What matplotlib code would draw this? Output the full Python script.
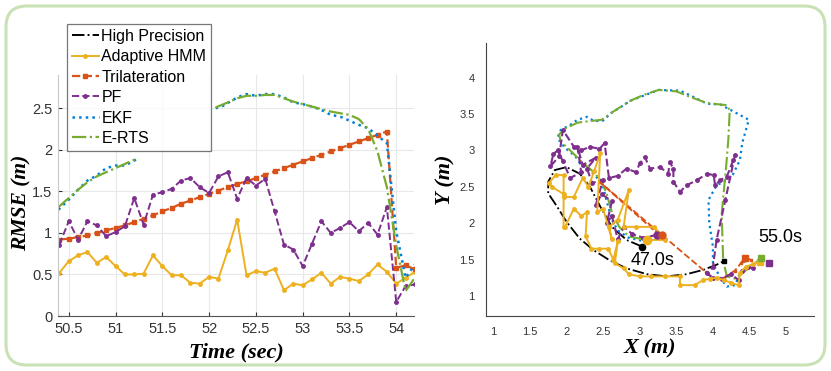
import numpy as np
import matplotlib
matplotlib.use('Agg')
import matplotlib.pyplot as plt
from matplotlib.patches import FancyBboxPatch

# ---- left panel: RMSE over time ----
t = [50.4, 50.5, 50.6, 50.7, 50.8, 50.9, 51.0, 51.1, 51.2, 51.3, 51.4, 51.5, 51.6,
     51.7, 51.8, 51.9, 52.0, 52.1, 52.2, 52.3, 52.4, 52.5, 52.6, 52.7, 52.8, 52.9,
     53.0, 53.1, 53.2, 53.3, 53.4, 53.5, 53.6, 53.7, 53.8, 53.9, 54.0, 54.1, 54.2]
rmse_hmm = [0.52, 0.66, 0.73, 0.77, 0.64, 0.71, 0.60, 0.50, 0.50, 0.51, 0.73, 0.60, 0.49,
            0.49, 0.40, 0.39, 0.47, 0.45, 0.79, 1.16, 0.49, 0.54, 0.52, 0.57, 0.31, 0.39,
            0.37, 0.44, 0.52, 0.39, 0.47, 0.45, 0.42, 0.50, 0.62, 0.53, 0.39, 0.46, 0.53]
rmse_tri = [0.92, 0.93, 0.95, 0.97, 1.00, 1.03, 1.06, 1.09, 1.13, 1.17, 1.21, 1.26, 1.30,
            1.35, 1.39, 1.43, 1.47, 1.51, 1.55, 1.59, 1.62, 1.66, 1.70, 1.74, 1.78, 1.82,
            1.86, 1.90, 1.94, 1.98, 2.02, 2.06, 2.10, 2.14, 2.18, 2.22, 0.58, 0.61, 0.56]
rmse_pf = [0.86, 1.14, 0.92, 1.14, 1.09, 0.96, 1.01, 1.08, 1.42, 1.10, 1.46, 1.49, 1.53,
           1.63, 1.66, 1.55, 1.48, 1.68, 1.73, 1.41, 1.66, 1.57, 1.65, 1.26, 0.86, 0.80,
           0.60, 0.87, 1.14, 1.00, 1.06, 1.13, 1.02, 1.12, 0.98, 1.31, 0.17, 0.36, 0.38]

# EKF / E-RTS curves (gap where no estimate)
ekf_t = [50.39, 50.5, 50.6, 50.7, 50.8, 50.9, 51.0, 51.1, 51.2, 51.24, None,
         52.07, 52.15, 52.3, 52.4, 52.5, 52.6, 52.7, 52.8, 52.9, 53.0, 53.1, 53.2,
         53.3, 53.4, 53.5, 53.6, 53.7, 53.8, 53.9, 54.0, 54.1, 54.2]
ekf_v = [1.28, 1.40, 1.52, 1.63, 1.69, 1.78, 1.81, 1.81, 1.87, 1.90, None,
         2.50, 2.53, 2.63, 2.67, 2.65, 2.67, 2.67, 2.63, 2.57, 2.55, 2.52, 2.48,
         2.42, 2.40, 2.35, 2.30, 2.26, 2.17, 2.08, 1.02, 0.46, 0.62]
erts_t = [50.39, 50.5, 50.6, 50.7, 50.8, 50.9, 51.0, 51.1, 51.2, 51.24, None,
          52.07, 52.2, 52.3, 52.4, 52.5, 52.6, 52.7, 52.8, 52.9, 53.0, 53.1, 53.2,
          53.3, 53.4, 53.5, 53.6, 53.7, 53.8, 53.9, 54.0, 54.1, 54.2]
erts_v = [1.31, 1.42, 1.52, 1.61, 1.68, 1.73, 1.78, 1.83, 1.88, 1.90, None,
          2.51, 2.57, 2.62, 2.65, 2.65, 2.66, 2.66, 2.62, 2.58, 2.55, 2.52, 2.49,
          2.46, 2.44, 2.42, 2.37, 2.25, 1.98, 1.55, 0.85, 0.30, 0.46]

# ---- right panel: trajectories (x, y in m) ----
hp_x = [3.03, 2.82, 2.62, 2.46, 2.32, 2.18, 2.00, 1.84, 1.75, 1.75, 1.87, 2.00, 2.18,
        2.37, 2.59, 2.82, 3.10, 3.37, 3.64, 3.87, 4.05, 4.15]
hp_y = [1.68, 1.77, 1.95, 2.23, 2.50, 2.68, 2.77, 2.73, 2.57, 2.41, 2.23, 2.02, 1.79,
        1.63, 1.49, 1.38, 1.30, 1.27, 1.30, 1.36, 1.43, 1.48]

hmm_x = [3.10, 3.35, 3.28, 3.20, 2.95, 2.78, 2.85, 2.70, 2.58, 2.62, 2.50, 2.42, 2.46,
         2.38, 2.30, 2.22, 2.10, 1.96, 1.96, 1.85, 1.76, 1.80, 1.96, 1.96, 1.98, 2.10,
         2.20, 2.28, 2.26, 2.34, 2.45, 2.57, 2.64, 2.70, 2.66, 2.78, 2.85, 3.00, 3.15,
         3.35, 3.55, 3.55, 3.75, 3.87, 3.96, 4.05, 4.15, 4.25, 4.35, 4.37, 4.45, 4.55, 4.64]
hmm_y = [1.77, 1.77, 1.85, 1.95, 1.95, 1.95, 2.45, 2.05, 1.95, 1.78, 2.20, 2.15, 2.96,
         2.72, 2.50, 2.62, 2.36, 2.36, 2.66, 2.66, 2.55, 2.50, 2.40, 1.95, 1.95, 2.20,
         2.10, 2.15, 1.82, 1.65, 1.65, 1.65, 1.50, 1.75, 1.45, 1.38, 1.30, 1.27, 1.27,
         1.27, 1.27, 1.15, 1.15, 1.22, 1.24, 1.25, 1.22, 1.18, 1.15, 1.32, 1.40, 1.44, 1.47]

tri_x = [3.30, 3.22, 2.46, 3.90, 4.00, 4.15, 4.30, 4.44, 4.38, 4.52, 4.44]
tri_y = [1.84, 1.88, 2.56, 1.33, 1.25, 1.25, 1.35, 1.52, 1.45, 1.50, 1.52]

pf_x = [3.24, 3.05, 2.90, 2.78, 2.70, 2.62, 2.55, 2.62, 2.48, 2.40, 2.50, 2.35, 2.28,
        2.40, 2.22, 2.15, 2.20, 2.05, 1.95, 1.88, 1.82, 1.78, 1.90, 1.95, 2.10, 2.20,
        2.32, 2.45, 2.52, 2.58, 2.70, 2.82, 2.95, 3.00, 3.07, 3.14, 3.28, 3.39, 3.41,
        3.46, 3.46, 3.55, 3.64, 3.78, 3.92, 4.01, 4.03, 4.10, 4.19, 4.28, 4.30, 4.17,
        4.05, 4.00, 3.92, 4.00, 4.12, 4.25, 4.35, 4.40, 4.48, 4.55, 4.65, 4.76]
pf_y = [1.84, 1.80, 1.85, 1.95, 1.78, 2.10, 2.00, 2.30, 2.40, 2.25, 2.60, 2.55, 2.75,
        2.90, 2.80, 3.05, 2.70, 2.62, 2.85, 3.00, 2.95, 2.78, 2.92, 3.28, 3.05, 3.00,
        3.05, 3.02, 3.10, 2.62, 2.65, 2.75, 2.70, 2.82, 2.91, 2.75, 2.77, 2.68, 2.84,
        2.75, 2.57, 2.43, 2.52, 2.59, 2.68, 2.66, 2.52, 2.59, 2.64, 2.87, 2.93, 2.32,
        1.77, 1.40, 1.31, 1.25, 1.24, 1.30, 1.22, 1.35, 1.40, 1.38, 1.48, 1.45]

ekf_x = [3.02, 2.85, 2.70, 2.62, 2.55, 2.50, 2.42, 2.30, 2.20, 2.12, 2.02, 1.92, 1.88,
         1.92, 2.05, 2.15, 2.28, 2.38, 2.50, 2.62, 2.75, 2.87, 3.05, 3.26, 3.55, 3.70,
         3.92, 4.10, 4.25, 4.49, 4.40, 4.37, 4.25, 4.05, 3.94, 3.95, 4.00, 4.00, 4.10,
         4.19, 4.30, 4.37, 4.50, 4.64]
ekf_y = [1.76, 1.80, 1.90, 2.05, 2.30, 2.50, 2.62, 2.75, 2.80, 2.92, 3.00, 3.10, 3.18,
         3.28, 3.35, 3.42, 3.46, 3.40, 3.41, 3.52, 3.60, 3.68, 3.75, 3.83, 3.82, 3.75,
         3.64, 3.63, 3.55, 3.42, 3.10, 2.87, 2.62, 2.52, 2.32, 2.00, 1.68, 1.45, 1.25,
         1.13, 1.15, 1.30, 1.40, 1.49]

erts_x = [3.04, 2.85, 2.72, 2.62, 2.55, 2.48, 2.35, 2.20, 2.05, 1.92, 1.90, 1.98, 2.15,
          2.30, 2.48, 2.62, 2.87, 3.05, 3.26, 3.50, 3.70, 3.92, 4.19, 4.23, 4.21, 4.18,
          4.12, 4.14, 4.19, 4.30, 4.46, 4.66]
erts_y = [1.78, 1.82, 1.95, 2.15, 2.40, 2.58, 2.72, 2.85, 3.00, 3.12, 3.22, 3.30, 3.38,
          3.40, 3.42, 3.52, 3.68, 3.76, 3.83, 3.81, 3.73, 3.65, 3.62, 3.55, 3.14, 2.77,
          2.13, 1.49, 1.27, 1.24, 1.36, 1.52]

names = ['High Precision', 'Adaptive HMM', 'Trilateration', 'PF', 'EKF', 'E-RTS']
c_hp = 'black'
c_hmm = '#EDB120'
c_tri = '#D95319'
c_pf = '#7E2F8E'
c_ekf = '#0080D8'
c_erts = '#77AC30'

def arr(v):
    return np.array([np.nan if a is None else a for a in v], dtype=float)

plt.rcParams['font.family'] = ['Liberation Sans', 'DejaVu Sans']
fig = plt.figure(figsize=(8.31, 3.71), dpi=100)

# green rounded frame around the whole figure
frame = FancyBboxPatch((6 / 831, 6 / 371), 819 / 831, 359 / 371,
                       boxstyle='round,pad=0,rounding_size=0.025',
                       transform=fig.transFigure, fill=False,
                       edgecolor='#C8E2B6', linewidth=2.2, mutation_aspect=831 / 371)
fig.patches.append(frame)

ax1 = fig.add_axes([58 / 831, 55 / 371, 356 / 831, 241 / 371])
ax1.plot([], [], '-.', color=c_hp, lw=1.4, label=names[0])
ax1.plot(t, rmse_hmm, '-', color=c_hmm, lw=1.4, marker='o', ms=2.5, label=names[1])
ax1.plot(t, rmse_tri, '--', color=c_tri, lw=1.6, marker='s', ms=2.2, label=names[2])
ax1.plot(t, rmse_pf, '--', color=c_pf, lw=1.4, marker='o', ms=2.5, label=names[3])
ax1.plot(arr(ekf_t), arr(ekf_v), ':', color=c_ekf, lw=1.8, label=names[4])
ax1.plot(arr(erts_t), arr(erts_v), '-.', color=c_erts, lw=1.6, label=names[5])

ax1.set_xlim(50.385, 54.19)
ax1.set_ylim(0, 2.9)
ax1.set_xticks([50.5, 51, 51.5, 52, 52.5, 53, 53.5, 54])
ax1.set_xticklabels(['50.5', '51', '51.5', '52', '52.5', '53', '53.5', '54'])
ax1.set_yticks([0, 0.5, 1, 1.5, 2, 2.5])
ax1.set_yticklabels(['0', '0.5', '1', '1.5', '2', '2.5'])
ax1.grid(True, color='#e8e8e8', lw=0.8)
ax1.set_axisbelow(True)
for s in ['top', 'right']:
    ax1.spines[s].set_visible(False)
ax1.spines['left'].set_color('#c8c8c8')
ax1.spines['bottom'].set_color('#555555')
ax1.tick_params(direction='in', length=3, labelsize=10.5, colors='#333333', pad=4)
ax1.set_xlabel('Time (sec)', family='Liberation Serif', style='italic',
               weight='bold', fontsize=16)
ax1.set_ylabel('RMSE (m)', family='Liberation Serif', style='italic',
               weight='bold', fontsize=15.5)
ax1.xaxis.set_label_coords(0.5, -0.108)
ax1.yaxis.set_label_coords(-0.074, 0.47)

leg = fig.legend(loc='upper left', bbox_to_anchor=(67 / 831, 1 - 24 / 371),
                 fontsize=11.5, frameon=True, fancybox=False, handlelength=1.7,
                 handletextpad=0.15, labelspacing=0.34, borderpad=0.3,
                 borderaxespad=0, markerscale=1.0)
leg.get_frame().set_edgecolor('#555555')
leg.get_frame().set_linewidth(0.9)

# ---- right panel ----
ax2 = fig.add_axes([485.7 / 831, 55 / 371, 328.6 / 831, 272.7 / 371])
ax2.plot(hp_x, hp_y, '-.', color=c_hp, lw=1.3)
ax2.plot(ekf_x, ekf_y, ':', color=c_ekf, lw=1.6)
ax2.plot(erts_x, erts_y, '-.', color=c_erts, lw=1.5)
ax2.plot(tri_x, tri_y, '--', color=c_tri, lw=1.3, marker='s', ms=2)
ax2.plot(pf_x, pf_y, '--', color=c_pf, lw=1.5, marker='o', ms=2.5)
ax2.plot(hmm_x, hmm_y, '-', color=c_hmm, lw=1.4, marker='o', ms=2.5)

# start / end markers
ax2.plot(hp_x[0], hp_y[0], 'o', color=c_hp, ms=4.5)
ax2.plot(hp_x[-1], hp_y[-1], 's', color=c_hp, ms=3.5)
ax2.plot(hmm_x[0], hmm_y[0], 'o', color=c_hmm, ms=6)
ax2.plot(pf_x[0], pf_y[0], 'o', color=c_pf, ms=5)
ax2.plot(tri_x[0], tri_y[0], 'o', color=c_tri, ms=5)
ax2.plot(hmm_x[-1], hmm_y[-1], 's', color=c_hmm, ms=4)
ax2.plot(tri_x[-1], tri_y[-1], 's', color=c_tri, ms=4)
ax2.plot(erts_x[-1], erts_y[-1], 's', color=c_erts, ms=4)
ax2.plot(pf_x[-1], pf_y[-1], 's', color=c_pf, ms=4)

ax2.text(2.88, 1.49, '47.0s', fontsize=13, va='center', ha='left')
ax2.text(4.62, 1.80, '55.0s', fontsize=13, va='center', ha='left')

ax2.set_xlim(0.896, 5.385)
ax2.set_ylim(0.726, 4.47)
ax2.set_xticks([1, 1.5, 2, 2.5, 3, 3.5, 4, 4.5, 5])
ax2.set_xticklabels(['1', '1.5', '2', '2.5', '3', '3.5', '4', '4.5', '5'])
ax2.set_yticks([1, 1.5, 2, 2.5, 3, 3.5, 4])
ax2.set_yticklabels(['1', '1.5', '2', '2.5', '3', '3.5', '4'])
for s in ['top', 'right']:
    ax2.spines[s].set_visible(False)
ax2.spines['left'].set_color('#444444')
ax2.spines['bottom'].set_color('#444444')
ax2.tick_params(direction='in', length=0, labelsize=8, colors='#333333', pad=8)
ax2.set_xlabel('X (m)', family='Liberation Serif', style='italic',
               weight='bold', fontsize=16)
ax2.set_ylabel('Y (m)', family='Liberation Serif', style='italic',
               weight='bold', fontsize=16)
ax2.xaxis.set_label_coords(0.5, -0.081)
ax2.yaxis.set_label_coords(-0.093, 0.5)

fig.savefig('out.png', dpi=100)
